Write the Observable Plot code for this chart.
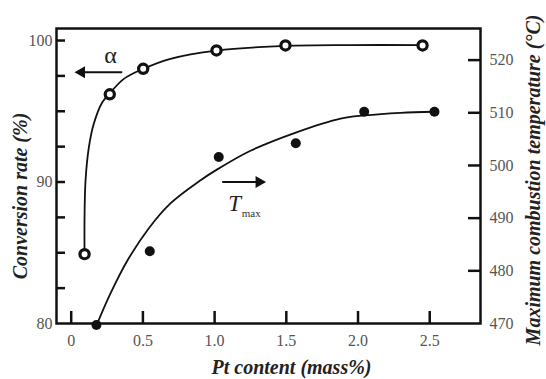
<!DOCTYPE html>
<html><head><meta charset="utf-8">
<script src="https://cdn.jsdelivr.net/npm/d3@7"></script>
<script src="https://cdn.jsdelivr.net/npm/@observablehq/plot@0.6"></script>
<style>
body{margin:0;background:#fff;}
#chart svg{display:block;overflow:visible}
</style></head><body><div id="chart"></div>
<script>
// Conversion rate α (%) vs Pt content (mass%)
const alphaPt = [0.093, 0.269, 0.502, 1.013, 1.494, 2.45];
const alphaVal = [84.9, 96.2, 98.0, 99.3, 99.65, 99.65];
// Maximum combustion temperature (°C) vs Pt content
const tmaxPt = [0.176, 0.548, 1.029, 1.566, 2.043, 2.533];
const tmaxVal = [469.7, 483.7, 501.6, 504.2, 510.2, 510.2];
// fitted curves
const alphaCurvePt = [0.093, 0.093, 0.100, 0.123, 0.158, 0.216, 0.267, 0.367, 0.502, 0.692, 1.013, 1.494, 1.948, 2.45];
const alphaCurveVal = [84.88, 87.49, 90.11, 92.44, 94.13, 95.62, 96.25, 97.29, 98.0, 98.71, 99.29, 99.62, 99.68, 99.68];
const tmaxCurvePt = [0.176, 0.274, 0.393, 0.539, 0.692, 0.902, 1.027, 1.250, 1.571, 1.878, 2.045, 2.296, 2.533];
const tmaxCurveVal = [469.6, 475.7, 482.0, 488.0, 492.8, 497.2, 499.4, 502.8, 506.3, 508.9, 509.5, 510.0, 510.2];

const xTicks = [0, 0.5, 1.0, 1.5, 2.0, 2.5];
const leftTicks = [82.5, 85, 87.5, 90, 92.5, 95, 97.5, 100];
const leftLabels = [80, 90, 100];
const rightTicks = [480, 490, 500, 510, 520];
const rightLabels = [470, 480, 490, 500, 510, 520];

// annotations (data coordinates)
const alphaArrow = {x1: 0.356, x2: 0.093, tip: 0.072, y: 97.76, labelX: 0.275, labelY: 98.95};
const tArrow = {x1: 1.053, x2: 1.29, tip: 1.31, y: 90.0, labelX: 1.14, labelY: 88.45, subX: 1.255, subY: 87.8};

const yDomain = [80, 100.85];
const rDomain = [470, 526];
const toLeft = d3.scaleLinear().domain(rDomain).range(yDomain);

const alpha = alphaPt.map((x, i) => ({x, y: alphaVal[i]}));
const tmax = tmaxPt.map((x, i) => ({x, y: toLeft(tmaxVal[i])}));
const alphaCurve = alphaCurvePt.map((x, i) => ({x, y: alphaCurveVal[i]}));
const tmaxCurve = tmaxCurvePt.map((x, i) => ({x, y: toLeft(tmaxCurveVal[i])}));

const font = "'Liberation Serif', 'Times New Roman', serif";
const ink = "#111";
const labelGray = "#555";
const titleStyle = {fontSize: 20, fontWeight: "bold", fontStyle: "italic", fill: "#222", textAnchor: "middle", lineAnchor: "middle"};

const plot = Plot.plot({
  width: 546, height: 379,
  marginLeft: 56, marginRight: 66, marginTop: 28, marginBottom: 56,
  style: {fontFamily: font, background: "#fff", overflow: "visible"},
  x: {domain: [-0.1025, 2.854]},
  y: {domain: yDomain},
  marks: [
    // inward ticks
    Plot.axisX(xTicks, {tickSize: -12, strokeWidth: 2.5, stroke: ink, text: null, label: null}),
    Plot.axisY(leftTicks, {tickSize: -9, strokeWidth: 2.5, stroke: ink, text: null, label: null}),
    Plot.axisY(rightTicks.map(toLeft), {anchor: "right", tickSize: -13, strokeWidth: 2.5, stroke: ink, text: null, label: null}),
    // tick labels
    Plot.axisX(xTicks, {tickSize: 0, tickPadding: 11, fontSize: 16, color: labelGray, label: null,
      tickFormat: d => d === 0 ? "0" : d.toFixed(1)}),
    Plot.axisY(leftLabels, {tickSize: 0, tickPadding: 4, fontSize: 16, color: labelGray, label: null}),
    Plot.axisY(rightLabels.map(toLeft), {anchor: "right", tickSize: 0, tickPadding: 9, fontSize: 16, color: labelGray, label: null,
      tickFormat: d => Math.round(toLeft.invert(d))}),
    Plot.frame({stroke: ink, strokeWidth: 2.5}),
    // axis titles
    Plot.text(["Conversion rate (%)"], {frameAnchor: "left", rotate: -90, dx: -36, dy: 20, ...titleStyle}),
    Plot.text(["Pt content (mass%)"], {frameAnchor: "bottom", dy: 44, dx: 23, ...titleStyle}),
    Plot.text(["Maximum combustion temperature (°C)"], {frameAnchor: "right", rotate: -90, dx: 53, dy: 4, ...titleStyle}),
    // curves
    Plot.line(alphaCurve, {x: "x", y: "y", curve: "catmull-rom", stroke: ink, strokeWidth: 1.8}),
    Plot.line(tmaxCurve, {x: "x", y: "y", curve: "catmull-rom", stroke: ink, strokeWidth: 1.8}),
    // points
    Plot.dot(alpha, {x: "x", y: "y", r: 4.6, stroke: ink, strokeWidth: 3.2, fill: "#fff"}),
    Plot.dot(tmax, {x: "x", y: "y", r: 5, fill: ink, stroke: null}),
    // annotations
    Plot.link([alphaArrow], {x1: "x1", x2: "x2", y1: "y", y2: "y", stroke: ink, strokeWidth: 2}),
    Plot.dot([alphaArrow], {x: "tip", y: "y", symbol: "triangle", r: 4.5, rotate: -90, fill: ink, stroke: null}),
    Plot.text([alphaArrow], {x: "labelX", y: "labelY", text: () => "α", fontSize: 24, fill: "#222"}),
    Plot.link([tArrow], {x1: "x1", x2: "x2", y1: "y", y2: "y", stroke: ink, strokeWidth: 2}),
    Plot.dot([tArrow], {x: "tip", y: "y", symbol: "triangle", r: 4.5, rotate: 90, fill: ink, stroke: null}),
    Plot.text([tArrow], {x: "labelX", y: "labelY", text: () => "T", fontSize: 23, fontStyle: "italic", fill: "#222"}),
    Plot.text([tArrow], {x: "subX", y: "subY", text: () => "max", fontSize: 11, fill: "#333"})
  ]
});
document.getElementById("chart").append(plot);
</script>
</body></html>
